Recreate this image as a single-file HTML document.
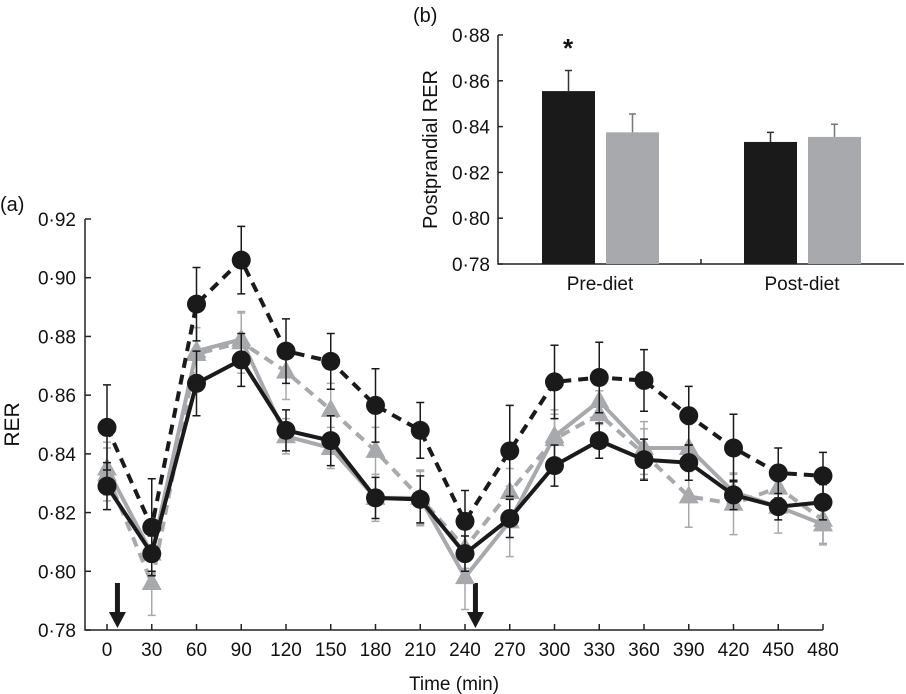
<!DOCTYPE html>
<html><head><meta charset="utf-8"><style>
html,body{margin:0;padding:0;background:#fff;}
svg{display:block;font-family:"Liberation Sans",Arial,sans-serif;}
</style></head><body>
<svg id="chart" width="906" height="694" viewBox="0 0 906 694"></svg>
<script>
const times=[0,30,60,90,120,150,180,210,240,270,300,330,360,390,420,450,480];
const yTicks=[0.78,0.80,0.82,0.84,0.86,0.88,0.90,0.92];
const blackDashed=[0.849,0.815,0.891,0.906,0.875,0.8715,0.8565,0.848,0.817,0.841,0.8645,0.866,0.865,0.853,0.842,0.8335,0.8325];
const blackDashedErr=[0.0145,0.0165,0.0125,0.0115,0.011,0.0095,0.0125,0.0095,0.0105,0.0155,0.0125,0.012,0.0105,0.01,0.0115,0.0085,0.008];
const blackSolid=[0.829,0.806,0.864,0.872,0.848,0.8445,0.825,0.8245,0.806,0.818,0.836,0.8445,0.838,0.837,0.826,0.822,0.8235];
const blackSolidErr=[0.008,0.006,0.011,0.009,0.007,0.0085,0.007,0.008,0.006,0.0065,0.007,0.006,0.007,0.006,0.005,0.0045,0.006];
const greySolid=[0.835,0.806,0.875,0.879,0.846,0.842,0.825,0.825,0.798,0.817,0.846,0.858,0.842,0.842,0.827,0.822,0.816];
const greySolidErr=[0.009,0.007,0.008,0.009,0.006,0.007,0.008,0.009,0.011,0.012,0.009,0.008,0.009,0.008,0.006,0.009,0.007];
const greyDashed=[0.833,0.796,0.874,0.878,0.868,0.855,0.841,0.825,0.808,0.827,0.845,0.8535,0.840,0.8255,0.823,0.8285,0.8175];
const greyDashedErr=[0.009,0.011,0.009,0.0105,0.0095,0.009,0.008,0.0095,0.007,0.008,0.0085,0.008,0.0085,0.0105,0.0105,0.006,0.008];
const barGroups=["Pre-diet","Post-diet"];
const barBlack=[0.8555,0.8333];
const barBlackErr=[0.009,0.0042];
const barGrey=[0.8375,0.8355];
const barGreyErr=[0.008,0.0055];
const insetTicks=[0.78,0.80,0.82,0.84,0.86,0.88];

const NS="http://www.w3.org/2000/svg";
const svg=document.getElementById('chart');
function mk(tag,attrs,parent,text){const e=document.createElementNS(NS,tag);for(const k in attrs)e.setAttribute(k,attrs[k]);if(text!==undefined)e.textContent=text;(parent||svg).appendChild(e);return e;}
const fmt=v=>v.toFixed(2).replace('.','\u00b7');

const X=t=>107+(t/30)*44.75;
const Y=v=>630-(v-0.78)/0.14*411;
const main=mk('g',{});


const lbl=mk('text',{x:0,y:211,'font-size':20,fill:'#111'},main,'(a)');

const ax=mk('path',{d:`M85,${Y(0.92)} V630 H823`,stroke:'#222','stroke-width':1.5,fill:'none'},main);

yTicks.forEach(v=>{
  mk('line',{x1:85,x2:91,y1:Y(v),y2:Y(v),stroke:'#222','stroke-width':1.5},main);
  const t=mk('text',{x:76,y:Y(v)+7,'text-anchor':'end','font-size':19,fill:'#111'},main,fmt(v));
  
});
times.forEach(tm=>{
  mk('line',{x1:X(tm),x2:X(tm),y1:630,y2:624,stroke:'#222','stroke-width':1.5},main);
  const t=mk('text',{x:X(tm),y:656,'text-anchor':'middle','font-size':19,fill:'#111'},main,String(tm));
  
});
const xt=mk('text',{x:454,y:690,'text-anchor':'middle','font-size':19,fill:'#111'},main,'Time (min)');

const yt=mk('text',{x:0,y:0,'text-anchor':'middle','font-size':21,fill:'#111',transform:`translate(19,${Y(0.85)}) rotate(-90)`},main,'RER');

[7,247].forEach(tm=>{
  const a=mk('path',{d:`M${X(tm)-2.5},583 h5 v29 h6 l-8.5,16 l-8.5,-16 h6 z`,fill:'#1a1a1a'},main);
  
});

const series=[
 {name:'grey-dashed-series',vals:greyDashed,err:greyDashedErr,col:'#a7a9ac',dash:'10,7',marker:'tri'},
 {name:'grey-solid-series',vals:greySolid,err:greySolidErr,col:'#a7a9ac',dash:'',marker:'tri'},
 {name:'black-solid-series',vals:blackSolid,err:blackSolidErr,col:'#1a1a1a',dash:'',marker:'circ'},
 {name:'black-dashed-series',vals:blackDashed,err:blackDashedErr,col:'#1a1a1a',dash:'10,7',marker:'circ'}
];
series.forEach(s=>{
  const g=mk('g',{},main);
  
  s.vals.forEach((v,i)=>{
    const x=X(times[i]),y1=Y(v+s.err[i]),y2=Y(v-s.err[i]);
    mk('path',{d:`M${x},${y1} V${y2} M${x-4},${y1} h8 M${x-4},${y2} h8`,stroke:s.col,'stroke-width':1.5,fill:'none'},g);
  });
  const pts=s.vals.map((v,i)=>`${X(times[i])},${Y(v)}`).join(' ');
  const pl=mk('polyline',{points:pts,fill:'none',stroke:s.col,'stroke-width':4,'stroke-dasharray':s.dash},g);
  
  s.vals.forEach((v,i)=>{
    const x=X(times[i]),y=Y(v);let m;
    if(s.marker==='circ') m=mk('circle',{cx:x,cy:y,r:9.5,fill:s.col},g);
    else m=mk('path',{d:`M${x},${y-11} L${x+10},${y+7} L${x-10},${y+7} Z`,fill:s.col},g);
    
  });
});

const IY=v=>264-(v-0.78)/0.10*229;
const bx0=498;
const ins=mk('g',{});

const lb=mk('text',{x:413,y:22,'font-size':20,fill:'#111'},ins,'(b)');

const iax=mk('path',{d:`M${bx0},${IY(0.88)} V264 H904 M701,264 v-5`,stroke:'#222','stroke-width':1.5,fill:'none'},ins);

insetTicks.forEach(v=>{
  mk('line',{x1:bx0,x2:bx0+5,y1:IY(v),y2:IY(v),stroke:'#222','stroke-width':1.5},ins);
  const t=mk('text',{x:490,y:IY(v)+7,'text-anchor':'end','font-size':19,fill:'#111'},ins,fmt(v));
  
});
const iyt=mk('text',{x:0,y:0,'text-anchor':'middle','font-size':20,fill:'#111',transform:`translate(437,${IY(0.83)}) rotate(-90)`},ins,'Postprandial RER');

const groupX=[542,744];
barGroups.forEach((gname,i)=>{
  const gx=groupX[i];
  const specs=[[barBlack,barBlackErr,'#1a1a1a',gx,'#333'],[barGrey,barGreyErr,'#a7a9ac',gx+64,'#777']];
  specs.forEach(([vals,errs,col,x,ec],j)=>{
    const b=mk('rect',{x:x,y:IY(vals[i]),width:53,height:264-IY(vals[i]),fill:col},ins);
    
    
    const cx=x+26.5,ye=IY(vals[i]+errs[i]);
    mk('path',{d:`M${cx},${IY(vals[i])} V${ye} M${cx-3.5},${ye} h7`,stroke:ec,'stroke-width':1.5,fill:'none'},ins);
  });
  const t=mk('text',{x:gx+58,y:290,'text-anchor':'middle','font-size':19,fill:'#111'},ins,gname);
  
});
const st=mk('text',{x:568,y:57,'text-anchor':'middle','font-size':26,'font-weight':'bold',fill:'#111'},ins,'*');

</script>
</body></html>
